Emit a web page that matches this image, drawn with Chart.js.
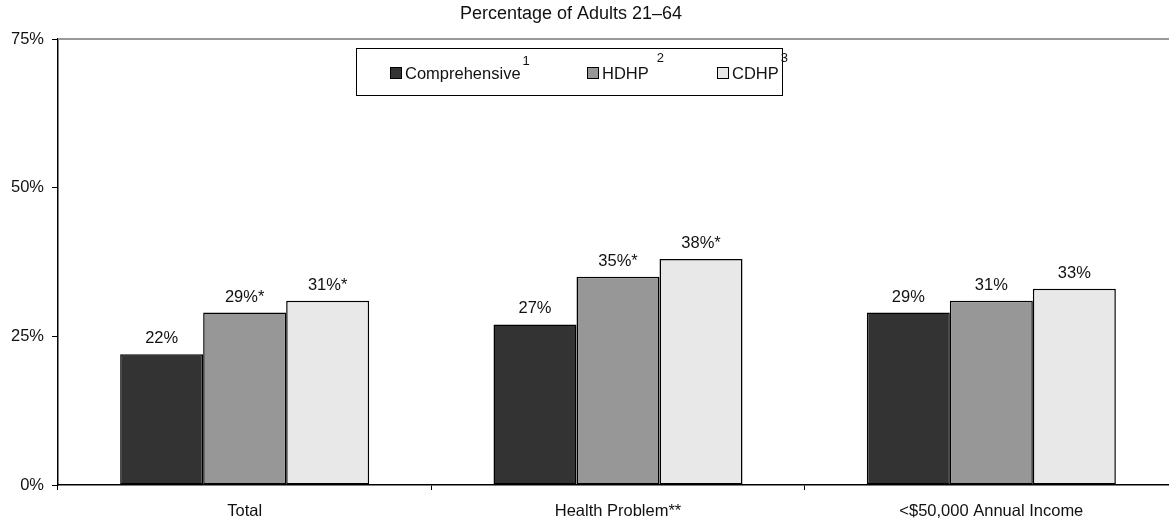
<!DOCTYPE html>
<html>
<head>
<meta charset="utf-8">
<script src="https://cdn.jsdelivr.net/npm/chart.js@4"></script>
<style>
  html, body { margin: 0; padding: 0; background: #fff; overflow: hidden; }
  #wrap { position: relative; width: 1180px; height: 519px; }
</style>
</head>
<body>
<div id="wrap"><canvas id="adultsChart"></canvas></div>
<script>
const categories = ["Total", "Health Problem**", "<$50,000 Annual Income"];
const seriesNames = ["Comprehensive", "HDHP", "CDHP"];
const footnotes = ["1", "2", "3"];
const comprehensive = [22, 27, 29];
const hdhp = [29, 35, 31];
const cdhp = [31, 38, 33];
// asterisks printed after the value labels
const comprehensiveMarks = ["", "", ""];
const hdhpMarks = ["*", "*", ""];
const cdhpMarks = ["*", "*", ""];
const yMax = 75;
const yStep = 25;

const FONT = "'Liberation Sans', Arial, Helvetica, sans-serif";
const colors = ["#333333", "#979797", "#e8e8e8"];
const marks = [comprehensiveMarks, hdhpMarks, cdhpMarks];

const chartDecor = {
  id: "chartDecor",
  afterDatasetsDraw(chart) {
    const ctx = chart.ctx;
    const area = chart.chartArea;
    const y = chart.scales.y;
    ctx.save();

    // gray top line at 75%
    ctx.strokeStyle = "#999999";
    ctx.lineWidth = 2;
    ctx.beginPath();
    ctx.moveTo(area.left, y.getPixelForValue(yMax));
    ctx.lineTo(area.right, y.getPixelForValue(yMax));
    ctx.stroke();

    // value labels
    ctx.fillStyle = "#111";
    ctx.font = "16.5px " + FONT;
    ctx.textAlign = "center";
    ctx.textBaseline = "alphabetic";
    chart.data.datasets.forEach((ds, i) => {
      chart.getDatasetMeta(i).data.forEach((bar, j) => {
        ctx.fillText(ds.data[j] + "%" + marks[i][j], bar.x, bar.y - 11);
      });
    });

    // title
    ctx.font = "18px " + FONT;
    ctx.fillText("Percentage of Adults 21\u201364", 571, 19);

    // legend box
    ctx.fillStyle = "#fff";
    ctx.fillRect(356.5, 48.5, 426, 47);
    ctx.strokeStyle = "#000";
    ctx.lineWidth = 1;
    ctx.strokeRect(356.5, 48.5, 426, 47);
    const sq = [390, 587, 717];
    const supY = [65, 62, 62];
    ctx.textAlign = "left";
    seriesNames.forEach((name, i) => {
      ctx.fillStyle = colors[i];
      ctx.fillRect(sq[i] + 0.5, 67.5, 11, 11);
      ctx.strokeStyle = "#000";
      ctx.lineWidth = 1;
      ctx.strokeRect(sq[i] + 0.5, 67.5, 11, 11);
      ctx.fillStyle = "#111";
      ctx.font = "16.5px " + FONT;
      ctx.fillText(name, sq[i] + 15, 79);
      const w = ctx.measureText(name).width;
      ctx.font = "13px " + FONT;
      ctx.fillText(footnotes[i], sq[i] + 15 + w + (i === 1 ? 8 : 2), supY[i]);
    });
    ctx.restore();
  }
};

new Chart(document.getElementById("adultsChart").getContext("2d"), {
  type: "bar",
  data: {
    labels: categories,
    datasets: [
      { label: seriesNames[0], data: comprehensive, backgroundColor: colors[0] },
      { label: seriesNames[1], data: hdhp, backgroundColor: colors[1] },
      { label: seriesNames[2], data: cdhp, backgroundColor: colors[2] }
    ].map(d => Object.assign(d, {
      borderColor: "#000",
      borderWidth: 1.5,
      borderSkipped: false,
      categoryPercentage: 0.667,
      barPercentage: 1.0
    }))
  },
  options: {
    responsive: true,
    maintainAspectRatio: false,
    animation: false,
    layout: { padding: { top: 39, right: 2, left: 0, bottom: 0 } },
    plugins: {
      legend: { display: false },
      title: { display: false },
      tooltip: { enabled: false }
    },
    scales: {
      x: {
        grid: { drawOnChartArea: false, color: "#000", tickLength: 5, lineWidth: 1 },
        border: { color: "#000", width: 1.5 },
        ticks: { color: "#111", font: { family: FONT, size: 16.5 }, padding: 12, maxRotation: 0 },
        afterFit(scale) { scale.height = 34; }
      },
      y: {
        min: 0,
        max: yMax,
        grid: { drawOnChartArea: false, color: "#000", tickLength: 6, lineWidth: 1 },
        border: { color: "#000", width: 1.5 },
        ticks: {
          stepSize: yStep,
          color: "#111",
          padding: 8,
          font: { family: FONT, size: 16.5 },
          callback: v => v + "%"
        },
        afterFit(scale) { scale.width = 58; }
      }
    }
  },
  plugins: [chartDecor]
});
</script>
</body>
</html>
